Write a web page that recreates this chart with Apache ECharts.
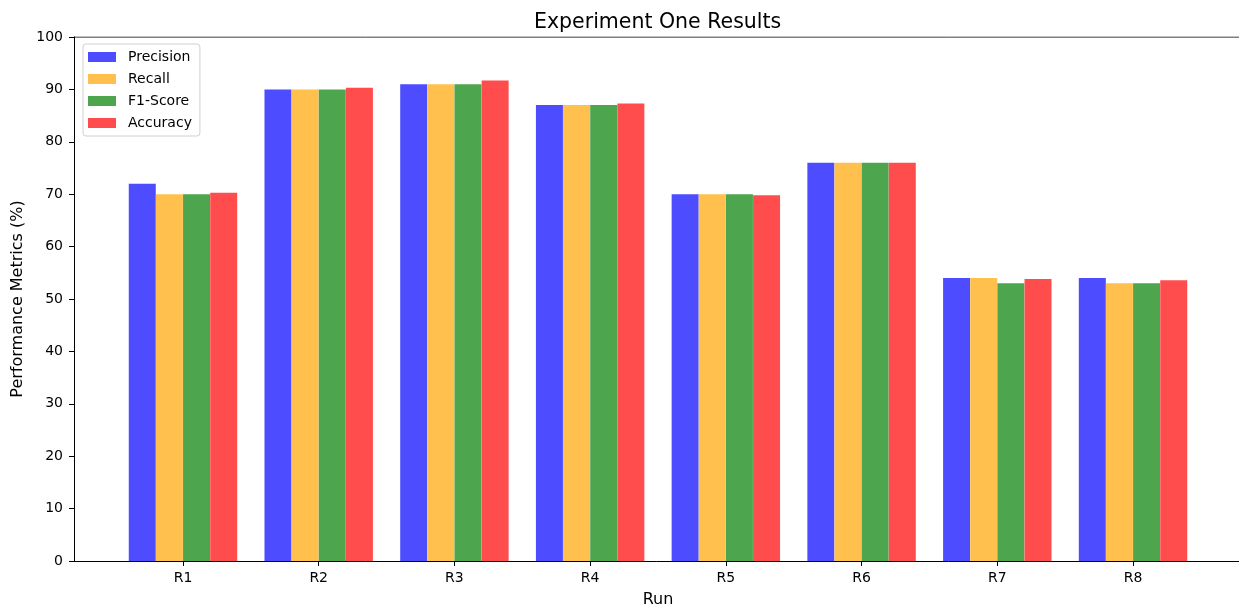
<!DOCTYPE html>
<html>
<head>
<meta charset="utf-8">
<script src="https://cdn.jsdelivr.net/npm/echarts@6/dist/echarts.min.js"></script>
<style>
  html, body { margin: 0; padding: 0; background: #fff; }
  #chart { width: 1239px; height: 610px; }
</style>
</head>
<body>
<div id="chart"></div>
<script>
// Runs and their metric scores (%)
const runs = ['R1', 'R2', 'R3', 'R4', 'R5', 'R6', 'R7', 'R8'];
const precision = [72, 90, 91, 87, 70, 76, 54, 54];
const recall    = [70, 90, 91, 87, 70, 76, 54, 53];
const f1Score   = [70, 90, 91, 87, 70, 76, 53, 53];
const accuracy  = [70.3, 90.3, 91.7, 87.3, 69.8, 76, 53.8, 53.6];
const yTicks = [0, 10, 20, 30, 40, 50, 60, 70, 80, 90, 100];

const metrics = [
  { name: 'Precision', values: precision, color: '#4d4dff' },
  { name: 'Recall',    values: recall,    color: '#ffc04d' },
  { name: 'F1-Score',  values: f1Score,   color: '#4da64d' },
  { name: 'Accuracy',  values: accuracy,  color: '#ff4d4d' }
];

const BAR_W = 0.2;          // bar width in run units
const X_MIN = -0.803, X_MAX = 7.803;
const FONT = 'DejaVu Sans';

const series = metrics.map((m, k) => ({
  name: m.name,
  type: 'bar',
  barWidth: 27,
  barGap: '-100%',
  itemStyle: { color: m.color },
  emphasis: { disabled: true },
  data: m.values.map((v, i) => [i + (k - 1.5) * BAR_W, v])
}));

const chart = echarts.init(document.getElementById('chart'), null, { renderer: 'canvas' });
chart.setOption({
  animation: false,
  backgroundColor: '#fff',
  textStyle: { fontFamily: FONT },
  title: {
    text: 'Experiment One Results',
    left: 529,
    top: 7,
    textStyle: { fontFamily: FONT, fontSize: 20.5, fontWeight: 'normal', color: '#000' }
  },
  legend: {
    orient: 'vertical',
    left: 83,
    top: 44,
    padding: [6, 8, 6, 5],
    itemWidth: 28,
    itemHeight: 10,
    itemGap: 8,
    icon: 'rect',
    backgroundColor: '#fff',
    borderColor: '#d0d0d0',
    borderWidth: 1,
    borderRadius: 3,
    textStyle: { fontFamily: FONT, fontSize: 14, color: '#000', padding: [0, 0, 0, 7] },
    data: metrics.map(m => m.name)
  },
  grid: {
    left: 74, top: 37, width: 1168, bottom: 49,
    containLabel: false, outerBoundsMode: 'none'
  },
  xAxis: {
    type: 'value',
    min: X_MIN,
    max: X_MAX,
    name: 'Run',
    nameLocation: 'middle',
    nameGap: 31,
    nameTextStyle: { fontFamily: FONT, fontSize: 16, color: '#000' },
    axisLine: { show: true, onZero: false, lineStyle: { color: '#000', width: 1 } },
    axisTick: {
      show: true, length: 5, inside: false,
      customValues: runs.map((r, i) => i),
      lineStyle: { color: '#000' }
    },
    axisLabel: {
      customValues: runs.map((r, i) => i),
      formatter: v => runs[Math.round(v)],
      fontFamily: FONT, fontSize: 14, color: '#000', margin: 10
    },
    splitLine: { show: false }
  },
  yAxis: {
    type: 'value',
    min: yTicks[0],
    max: yTicks[yTicks.length - 1],
    interval: 10,
    name: 'Performance Metrics (%)',
    nameLocation: 'middle',
    nameGap: 42,
    nameTextStyle: { fontFamily: FONT, fontSize: 16, color: '#000' },
    axisLine: { show: true, onZero: false, lineStyle: { color: '#000', width: 1 } },
    axisTick: { show: true, length: 5, lineStyle: { color: '#000' } },
    axisLabel: { fontFamily: FONT, fontSize: 14, color: '#000', margin: 11 },
    splitLine: { show: false }
  },
  series: series.concat([{
    // top frame line of the plot area
    type: 'line',
    silent: true,
    symbol: 'none',
    data: [[X_MIN, 100], [X_MAX, 100]],
    lineStyle: { color: '#000', width: 1 },
    z: 1
  }])
});
</script>
</body>
</html>
